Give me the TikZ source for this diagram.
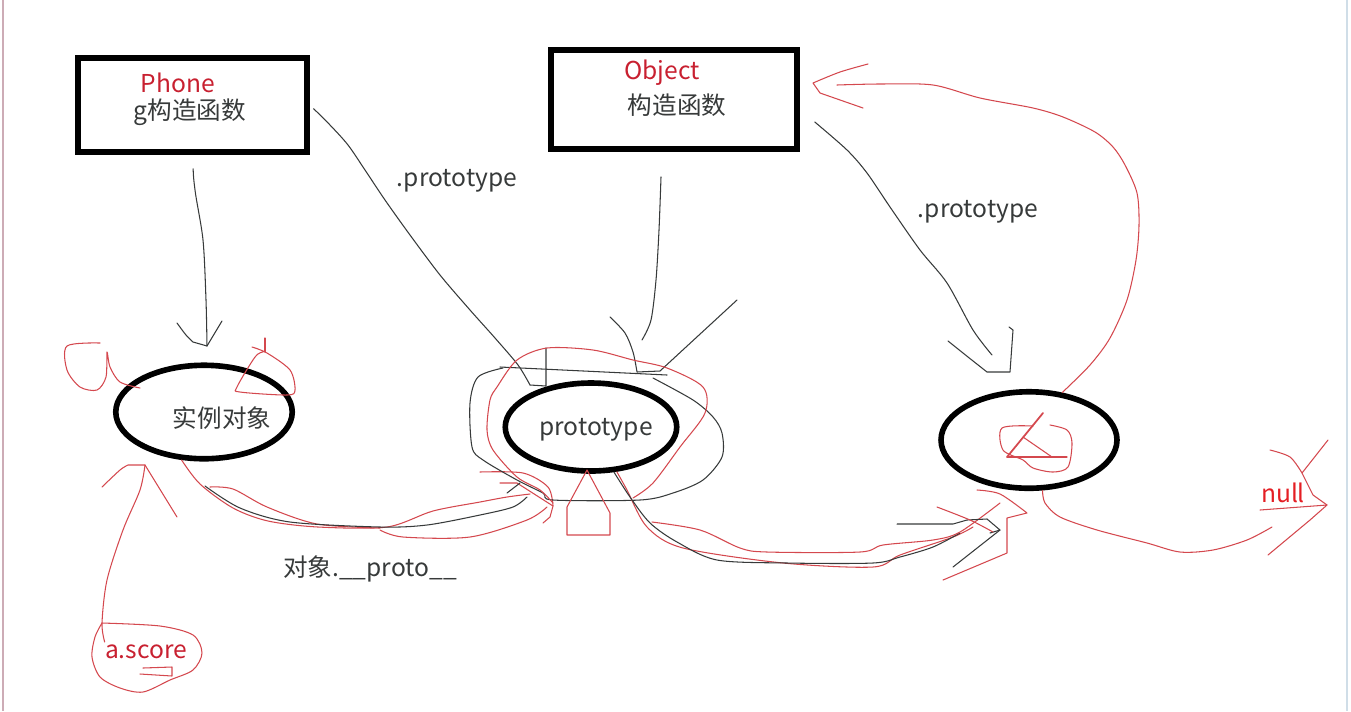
\documentclass[tikz,border=0pt]{standalone}
\usepackage{fontspec}
\setmainfont{Noto Sans CJK SC}
\usetikzlibrary{shapes.geometric}

\definecolor{penred}{RGB}{212,72,78}
\definecolor{inkred}{RGB}{200,32,48}
\definecolor{nullred}{RGB}{228,30,36}
\definecolor{pencil}{RGB}{55,58,58}
\definecolor{edgepink}{RGB}{205,172,182}
\definecolor{edgeblue}{RGB}{208,222,232}

\tikzset{
	hand/.style={line width=0.6pt, line join=round, line cap=round},
	redhand/.style={hand, draw=penred},
	blackhand/.style={hand, draw=pencil},
	ctorbox/.style={draw, line width=3.2pt, inner sep=0pt},
	oval/.style={ellipse, draw, line width=3.2pt, inner sep=0pt},
	inktext/.style={font=\fontsize{14pt}{16pt}\selectfont, text=pencil, inner sep=0pt},
	redtext/.style={inktext, text=inkred},
}

\begin{document}
\begin{tikzpicture}[x=0.02cm, y=-0.02cm]
		\useasboundingbox (0,0) rectangle (1351,711);
		\draw[edgepink, line width=1pt] (3,0) -- (3,711);	% screenshot edges
		\draw[edgeblue, line width=1pt] (1347,0) -- (1347,711);
		
		% the two constructors
		\node[ctorbox, minimum width=4.58cm, minimum height=1.88cm] (phone) at (192.5,105) {};
		\node[ctorbox, minimum width=4.92cm, minimum height=1.98cm] (object) at (674,99.5) {};
		\node[redtext] (phonename) at (178,83) {Phone};
		\node[inktext] (phonector) at (190,112) {g构造函数};
		\node[redtext] (objectname) at (662,73) {Object};
		\node[inktext] (objectctor) at (677,105) {构造函数};
		
		% the three objects
		\node[oval, minimum width=3.53cm, minimum height=1.87cm] (inst) at (204,412) {};
		\node[inktext] (insttext) at (222,418) {实例对象};
		\node[oval, minimum width=3.43cm, minimum height=1.76cm] (proto) at (591,427) {};
		\node[inktext] (prototext) at (596,430) {prototype};
		\node[oval, minimum width=3.52cm, minimum height=1.93cm] (objproto) at (1029,440) {};
		
		% labels on the strokes
		\node[inktext] (plink) at (457,181) {.prototype};
		\node[inktext] (olink) at (978,212) {.prototype};
		\node[inktext] (protolink) at (370,569) {对象.\_\_proto\_\_};
		\node[redtext] (score) at (146,652) {a.score};
		\node[redtext, text=nullred] (nullval) at (1283,493) {null};
		
		% arrow tips
		\coordinate (tipA) at (207,346);
		\coordinate (tipB) at (530,385);
		\coordinate (tipC) at (660,371);
		\coordinate (tipD) at (1010,372);
		\coordinate (tipE) at (813,83);
		\coordinate (tipF) at (553,506);
		\coordinate (tipG) at (1027,513);
		\coordinate (tipH) at (1327,505);
		\coordinate (tipI) at (145,465);
		
		% Phone -> instance
		\draw[blackhand, shorten <=8pt] plot[smooth, tension=0.5] coordinates {(phone.south) (195,190) (203,240) (206,300) (tipA)};
		\draw[blackhand] plot[smooth, tension=0.5] coordinates {(177,323) (186,335) (193,342)} -- (tipA) -- (222,321);
		
		% Phone -> prototype
		\draw[blackhand, shorten <=3pt] plot[smooth, tension=0.5] coordinates {(phone.east) (330,125) (348,145) (365,170) (385,200) (410,235) (440,275) (470,310) (495,338) (518,365) (tipB)};
		\draw[blackhand] (tipB) -- (546,386) -- (546,348);
		
		% Object -> prototype
		\draw[blackhand] plot[smooth, tension=0.5] coordinates {([xshift=-0.26cm, yshift=-0.5cm]object.south) (659,230) (656,280) (651,320) (642,340)};
		\draw[blackhand] plot[smooth, tension=0.5] coordinates {(610,317) (625,333) (633,352) (637,372)} -- (tipC) -- (737,300);
		
		% Object -> its prototype
		\draw[blackhand] plot[smooth, tension=0.5] coordinates {([xshift=0.3cm, yshift=-0.45cm]object.east) (847,150) (867,173) (890,207) (920,250) (947,283) (973,330) (992,355)};
		\draw[blackhand] plot[smooth, tension=0.5] coordinates {(948,341) (968,357) (987,372)} -- (tipD) -- (1013,330) -- (1009,327);
		
		% Object prototype -> back to Object
		\draw[redhand] plot[smooth, tension=0.5] coordinates {(objproto.55) (1090,365) (1110,338) (1127,300) (1136,260) (1139,225) (1137,193) (1125,165) (1113,147) (1095,132) (1063,117) (1033,108) (980,98) (933,85) (880,84) (837,85)};
		\draw[redhand] plot[smooth, tension=0.5] coordinates {(868,64) (840,72) (tipE)} -- (820,93) -- (863,108);
		
		% instance -> prototype (__proto__)
		\draw[redhand] plot[smooth, tension=0.5] coordinates {(inst.-115) (200,484) (233,508) (268,521) (318,527) (387,527) (433,511) (480,502) (507,497) (530,494)};
		\draw[redhand] plot[smooth, tension=0.5] coordinates {(210,487) (233,489) (267,507) (317,524) (380,528)};
		\draw[blackhand] plot[smooth, tension=0.5] coordinates {(205,486) (240,508) (290,522) (380,527) (427,525) (480,515) (513,507) (527,497)};
		\draw[redhand] plot[smooth, tension=0.5] coordinates {(380,530) (403,537) (470,537) (527,520) (547,507)};
		\draw[redhand] plot[smooth, tension=0.5] coordinates {(480,472) (523,473) (548,487) (tipF)} -- (550,517) -- (543,523);
		\draw[redhand] (500,483) -- (517,483) -- (tipF);
		\draw[blackhand] (507,493) -- (520,483);
		
		% loops round the prototype
		\draw[blackhand] plot[smooth, tension=0.5] coordinates {(503,368) (478,377) (470,403) (472,447) (483,460) (517,480) (543,493) (553,500) (640,500) (673,493) (703,480) (722,457) (722,433) (713,417) (693,400) (653,378)};
		\draw[blackhand] (500,367) -- (667,375);
		\draw[redhand] plot[smooth, tension=0.5] coordinates {(553,503) (540,490) (517,477) (493,450) (487,430) (490,400) (497,387) (517,360) (547,348) (593,350) (633,360) (667,368) (703,387) (705,413) (680,447) (653,483) (633,498)};
		\draw[redhand] (587,470) -- (567,507) -- (567,535) -- (610,535) -- (610,513) -- cycle;
		
		% prototype -> Object prototype
		\draw[redhand] plot[smooth, tension=0.5] coordinates {(proto.-60) (627,490) (647,527) (683,548) (783,563) (873,567) (900,555) (953,537) (973,527)};
		\draw[blackhand] plot[smooth, tension=0.5] coordinates {(proto.-63) (630,497) (650,523) (677,542) (717,560) (787,563) (873,563) (900,557) (933,547) (960,533)};
		\draw[redhand] plot[smooth, tension=0.5] coordinates {(652,522) (700,530) (740,548) (767,552) (860,552) (883,545) (933,540) (960,532) (1000,503)};
		\draw[blackhand] (897,524) -- (953,524) -- (967,520) -- (987,519) -- (1000,530) -- (990,533);
		\draw[blackhand] (1000,530) -- (953,567);
		\draw[redhand] plot[smooth, tension=0.5] coordinates {(977,490) (1000,494) (tipG)} -- (1007,518) -- (1007,553) -- (943,580);
		\draw[redhand] plot[smooth, tension=0.5] coordinates {(937,507) (970,520) (993,532)};
		
		% Object prototype -> null
		\draw[redhand] plot[smooth, tension=0.5] coordinates {(objproto.-75) (1045,503) (1060,517) (1097,530) (1147,543) (1180,552) (1213,550) (1247,540) (1272,527)};
		\draw[redhand] plot[smooth, tension=0.5] coordinates {(1270,450) (1290,457) (1302,473)} -- (1313,495) -- (tipH);
		\draw[redhand] (1328,440) -- (1302,473);
		\draw[redhand] (1260,510) -- (tipH) -- (1310,520) -- (1268,555);
		
		% a.score -> instance
		\draw[redhand] plot[smooth, tension=0.5] coordinates {([yshift=0.2cm]score.west) (102,623) (107,580) (123,530) (140,490) (tipI)};
		\draw[redhand] plot[smooth, tension=0.5] coordinates {(102,487) (120,470) (128,465)} -- (tipI) -- (177,517);
		\draw[redhand] plot[smooth, tension=0.5] coordinates {(102,623) (160,626) (193,635) (202,653) (193,670) (170,680) (143,692) (120,688) (100,677) (92,657) (95,637) (102,623)};
		\draw[redhand] (143,668) -- (172,667) -- (172,676) -- (140,674);
		
		% scribbles round the instance
		\draw[redhand] plot[smooth, tension=0.5] coordinates {(100,343) (67,346) (67,370) (80,387) (97,390) (106,377) (107,352) (110,367) (120,382) (140,388)};
		\draw[redhand] (265,338) -- (265,352);
		\draw[redhand] plot[smooth, tension=0.5] coordinates {(252,347) (267,353) (290,370) (295,390) (287,395) (240,392) (237,387) (255,357) (263,352)};
		
		% scribble in the Object prototype
		\draw[redhand, line width=1pt] (1043,413) -- (1007,457);
		\draw[redhand] (1007,457) -- (1067,457);
		\draw[redhand] (1023,437) -- (1052,457);
		\draw[redhand] plot[smooth, tension=0.5] coordinates {(1050,425) (1067,430) (1072,443) (1068,467) (1053,472) (1033,468) (1023,460) (1003,450) (1002,428) (1033,426)};
	\end{tikzpicture}
\end{document}
